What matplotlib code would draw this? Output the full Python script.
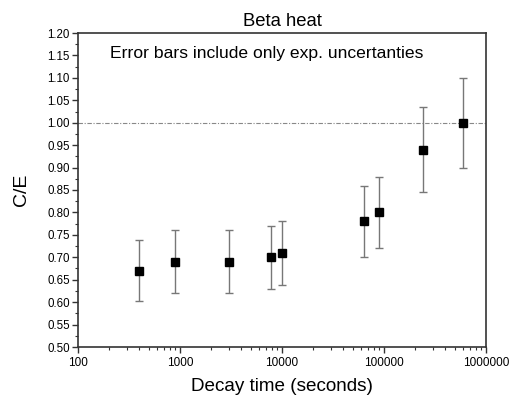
import matplotlib.pyplot as plt
from matplotlib.ticker import FixedLocator, MultipleLocator, NullFormatter

plt.rcParams['font.family'] = ['Liberation Sans', 'DejaVu Sans']

decay_time = [400, 900, 3000, 7800, 10000, 64000, 90000, 240000, 590000]
ce_ratio = [0.67, 0.69, 0.69, 0.70, 0.71, 0.78, 0.80, 0.94, 1.00]
ce_error = [0.068, 0.070, 0.070, 0.070, 0.071, 0.080, 0.080, 0.095, 0.100]

x_ticks = [100, 1000, 10000, 100000, 1000000]
x_tick_labels = ["100", "1000", "10000", "100000", "1000000"]

fig = plt.figure(figsize=(5.1, 3.99), dpi=100)
ax = fig.add_axes([78 / 510, 1 - 347 / 399, 408 / 510, 314 / 399])

ax.axhline(1.0, color="#888888", lw=0.8, ls=(0, (4, 1.5, 1, 1.5)), zorder=1)
ax.errorbar(decay_time, ce_ratio, yerr=ce_error, fmt="s", color="black",
            ms=5.3, ecolor="#777777", elinewidth=1.0, capsize=3, capthick=1.0, zorder=3)

ax.set_xscale("log")
ax.set_xlim(100, 1000000)
ax.set_ylim(0.5, 1.2)
ax.xaxis.set_major_locator(FixedLocator(x_ticks))
ax.set_xticklabels(x_tick_labels)
ax.xaxis.set_minor_formatter(NullFormatter())
ax.yaxis.set_major_locator(MultipleLocator(0.05))
ax.yaxis.set_minor_locator(MultipleLocator(0.025))
ax.yaxis.set_major_formatter(plt.FormatStrFormatter("%.2f"))

for s in ax.spines.values():
    s.set_color("#333333")
    s.set_linewidth(1.2)
ax.tick_params(which="major", direction="out", length=4.5, width=1.0, color="#333333")
ax.tick_params(which="minor", direction="out", length=2.5, width=0.8, color="#333333")
ax.tick_params(axis="x", labelsize=8.5, pad=3)
ax.tick_params(axis="y", labelsize=8.3, pad=1.5)

ax.set_title("Beta heat", fontsize=13.3, pad=5)
ax.set_xlabel("Decay time (seconds)", fontsize=13.6, labelpad=6)
ax.set_ylabel("C/E", fontsize=14, labelpad=12)
ax.text(0.078, 0.935, "Error bars include only exp. uncertanties", transform=ax.transAxes,
        fontsize=12.6, va="center", ha="left")

fig.savefig("out.png", dpi=100)
